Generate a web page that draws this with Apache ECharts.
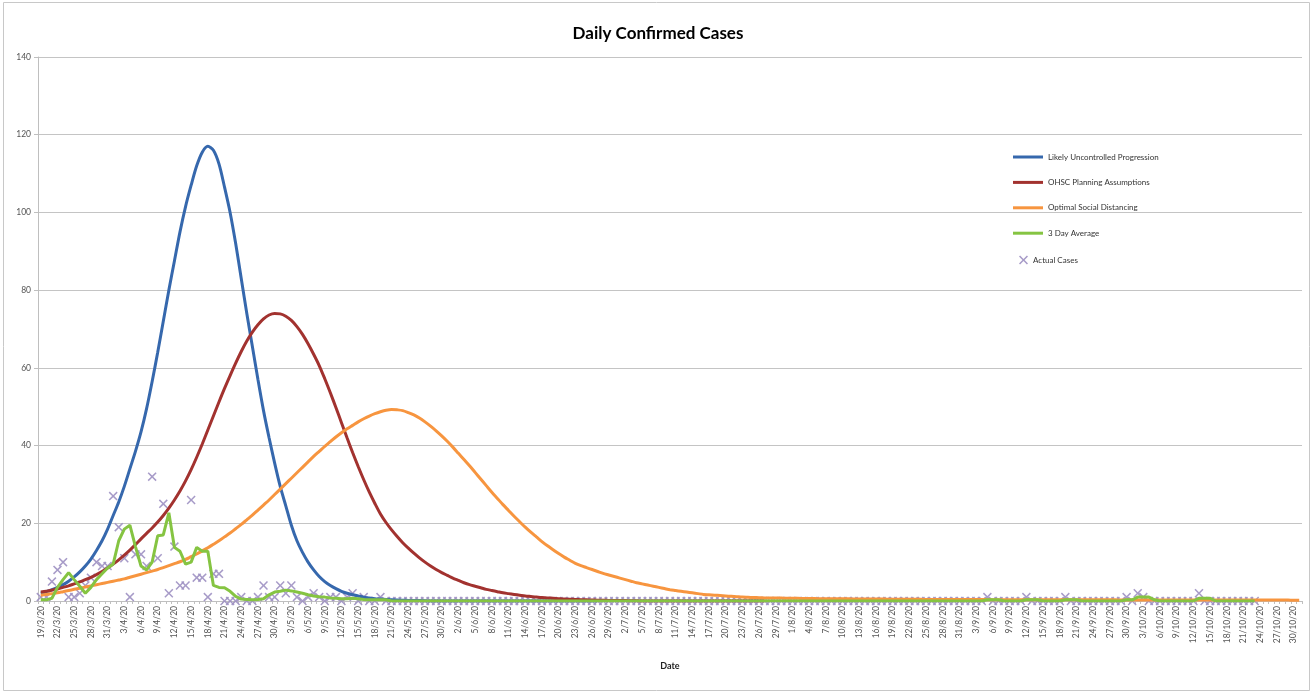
<!DOCTYPE html>
<html>
<head>
<meta charset="utf-8">
<script src="https://cdn.jsdelivr.net/npm/echarts@6/dist/echarts.min.js"></script>
<style>
html,body{margin:0;padding:0;background:#fff;}
#chart{width:1316px;height:697px;}
</style>
</head>
<body>
<div id="chart"></div>
<script>
// ---- categories (daily dates, d/m/yy) ----
const datesMar = ['19/3/20','20/3/20','21/3/20','22/3/20','23/3/20','24/3/20','25/3/20','26/3/20','27/3/20','28/3/20','29/3/20','30/3/20','31/3/20'];
const datesApr = ['1/4/20','2/4/20','3/4/20','4/4/20','5/4/20','6/4/20','7/4/20','8/4/20','9/4/20','10/4/20','11/4/20','12/4/20','13/4/20','14/4/20','15/4/20','16/4/20','17/4/20','18/4/20','19/4/20','20/4/20','21/4/20','22/4/20','23/4/20','24/4/20','25/4/20','26/4/20','27/4/20','28/4/20','29/4/20','30/4/20'];
const datesMay = ['1/5/20','2/5/20','3/5/20','4/5/20','5/5/20','6/5/20','7/5/20','8/5/20','9/5/20','10/5/20','11/5/20','12/5/20','13/5/20','14/5/20','15/5/20','16/5/20','17/5/20','18/5/20','19/5/20','20/5/20','21/5/20','22/5/20','23/5/20','24/5/20','25/5/20','26/5/20','27/5/20','28/5/20','29/5/20','30/5/20','31/5/20'];
const datesJun = ['1/6/20','2/6/20','3/6/20','4/6/20','5/6/20','6/6/20','7/6/20','8/6/20','9/6/20','10/6/20','11/6/20','12/6/20','13/6/20','14/6/20','15/6/20','16/6/20','17/6/20','18/6/20','19/6/20','20/6/20','21/6/20','22/6/20','23/6/20','24/6/20','25/6/20','26/6/20','27/6/20','28/6/20','29/6/20','30/6/20'];
const datesJul = ['1/7/20','2/7/20','3/7/20','4/7/20','5/7/20','6/7/20','7/7/20','8/7/20','9/7/20','10/7/20','11/7/20','12/7/20','13/7/20','14/7/20','15/7/20','16/7/20','17/7/20','18/7/20','19/7/20','20/7/20','21/7/20','22/7/20','23/7/20','24/7/20','25/7/20','26/7/20','27/7/20','28/7/20','29/7/20','30/7/20','31/7/20'];
const datesAug = ['1/8/20','2/8/20','3/8/20','4/8/20','5/8/20','6/8/20','7/8/20','8/8/20','9/8/20','10/8/20','11/8/20','12/8/20','13/8/20','14/8/20','15/8/20','16/8/20','17/8/20','18/8/20','19/8/20','20/8/20','21/8/20','22/8/20','23/8/20','24/8/20','25/8/20','26/8/20','27/8/20','28/8/20','29/8/20','30/8/20','31/8/20'];
const datesSep = ['1/9/20','2/9/20','3/9/20','4/9/20','5/9/20','6/9/20','7/9/20','8/9/20','9/9/20','10/9/20','11/9/20','12/9/20','13/9/20','14/9/20','15/9/20','16/9/20','17/9/20','18/9/20','19/9/20','20/9/20','21/9/20','22/9/20','23/9/20','24/9/20','25/9/20','26/9/20','27/9/20','28/9/20','29/9/20','30/9/20'];
const datesOct = ['1/10/20','2/10/20','3/10/20','4/10/20','5/10/20','6/10/20','7/10/20','8/10/20','9/10/20','10/10/20','11/10/20','12/10/20','13/10/20','14/10/20','15/10/20','16/10/20','17/10/20','18/10/20','19/10/20','20/10/20','21/10/20','22/10/20','23/10/20','24/10/20','25/10/20','26/10/20','27/10/20','28/10/20','29/10/20','30/10/20','31/10/20'];
const categories = [].concat(datesMar, datesApr, datesMay, datesJun, datesJul, datesAug, datesSep, datesOct);

// ---- series values ----
const likelyUncontrolled = [
 2.0,2.4,2.9,3.5,4.2,5.1,6.2,7.5,9.0,10.8,
 13.0,15.5,18.5,22.0,25.5,29.5,34.0,38.5,43.5,49.5,
 56.5,64.0,72.0,80.0,87.5,95.0,101.5,107.0,112.0,115.5,
 117.0,116.0,112.5,106.5,100.0,92.0,83.0,74.0,65.5,57.0,
 49.0,42.0,35.5,29.5,24.5,19.5,15.5,12.5,10.0,8.0,
 6.3,5.0,4.0,3.2,2.5,2.0,1.6,1.3,1.0,0.8,
 0.6,0.5,0.4,0.3,0.25,0.2,0.15,0.1,0.1,0.05,
 0,0,0,0,0,0,0,0,0,0,
 0,0,0,0,0,0,0,0,0,0,
 0,0,0,0,0,0,0,0,0,0,
 0
];
const ohscPlanning = [
 2.3,2.5,2.8,3.1,3.5,3.9,4.4,4.9,5.5,6.1,
 6.8,7.6,8.5,9.5,10.6,11.8,13.1,14.5,16.0,17.4,
 18.8,20.3,22.0,23.9,26.0,28.3,30.9,33.8,37.0,40.4,
 44.0,47.6,51.2,54.7,58.0,61.2,64.2,66.9,69.2,71.1,
 72.6,73.6,74.0,73.9,73.3,72.2,70.6,68.6,66.2,63.5,
 60.6,57.2,53.6,49.8,45.9,42.0,38.2,34.6,31.2,28.0,
 25.1,22.4,20.2,18.3,16.6,15.0,13.6,12.3,11.1,10.0,
 9.0,8.1,7.3,6.6,5.9,5.3,4.7,4.2,3.8,3.4,
 3.0,2.7,2.4,2.1,1.9,1.7,1.5,1.3,1.15,1.0,
 0.9,0.8,0.7,0.6,0.5,0.45,0.4,0.35,0.3,0.25,
 0.2,0.2,0.15,0.15,0.1,0.1,0.05,0.05,0,0,
 0,0,0,0,0,0,0,0,0,0,
 0,0,0,0,0,0,0,0,0,0,
 0
];
const optimalDistancing = [
 1.5,1.7,1.9,2.1,2.4,2.7,3.0,3.3,3.6,3.9,
 4.2,4.5,4.8,5.1,5.4,5.7,6.1,6.5,6.9,7.3,
 7.7,8.1,8.6,9.1,9.6,10.1,10.7,11.4,12.1,12.9,
 13.7,14.6,15.5,16.5,17.5,18.6,19.7,20.9,22.1,23.4,
 24.7,26.0,27.4,28.8,30.2,31.6,33.0,34.4,35.8,37.2,
 38.5,39.8,41.0,42.2,43.3,44.3,45.2,46.1,46.9,47.6,
 48.2,48.7,49.1,49.3,49.2,49.0,48.5,47.9,47.1,46.1,
 45.0,43.8,42.5,41.1,39.6,38.0,36.4,34.8,33.1,31.4,
 29.7,28.0,26.4,24.8,23.3,21.8,20.4,19.0,17.7,16.5,
 15.3,14.2,13.2,12.2,11.3,10.5,9.7,9.1,8.6,8.1,
 7.6,7.1,6.7,6.3,5.9,5.5,5.1,4.7,4.4,4.1,
 3.8,3.5,3.2,2.9,2.7,2.5,2.3,2.1,1.9,1.7,
 1.6,1.5,1.4,1.3,1.2,1.1,1.0,0.95,0.9,0.85,
 0.8,0.78,0.76,0.74,0.72,0.7,0.68,0.66,0.64,0.62,
 0.6,0.59,0.58,0.57,0.56,0.55,0.54,0.53,0.52,0.51,
 0.5,0.49,0.48,0.47,0.46,0.45,0.44,0.43,0.42,0.41,
 0.4,0.4,0.39,0.39,0.38,0.38,0.37,0.37,0.36,0.36,
 0.35,0.35,0.35,0.34,0.34,0.34,0.33,0.33,0.33,0.32,
 0.32,0.32,0.31,0.31,0.31,0.3,0.3,0.3,0.3,0.3,
 0.29,0.29,0.29,0.29,0.28,0.28,0.28,0.28,0.28,0.27,
 0.27,0.27,0.27,0.27,0.26,0.26,0.26,0.26,0.26,0.25,
 0.25,0.25,0.25,0.25,0.25,0.24,0.24,0.24,0.24,0.24,
 0.23,0.23,0.23,0.23,0.23,0.22,0.22
];
const threeDayAverage = [
 0.3,0.3,0.7,3.5,5.5,7.3,5.5,3.8,2.0,3.5,
 5.5,7.0,8.5,9.5,15.5,18.5,19.5,14.0,9.0,8.0,
 10.0,16.8,17.0,22.7,13.8,12.8,9.5,10.0,13.8,12.8,
 12.8,4.0,3.5,3.4,2.5,1.2,0.5,0.4,0.3,0.4,
 0.6,1.6,2.3,2.5,2.8,2.6,2.3,2.0,1.6,1.3,
 1.1,1.0,0.8,0.7,0.6,0.6,0.7,0.6,0.4,0.3,
 0.3,0.3,0.3,0,0,0,0,0,0,0,
 0,0,0,0,0,0,0,0,0,0,
 0,0,0,0,0,0,0,0,0,0,
 0,0,0,0,0,0,0,0,0,0,
 0,0,0,0,0,0,0,0,0,0,
 0,0,0,0,0,0,0,0,0,0,
 0,0,0,0,0,0,0,0,0,0,
 0,0,0,0,0,0,0,0,0,0,
 0,0,0,0,0,0,0,0,0,0,
 0,0,0,0,0,0,0,0,0,0,
 0,0,0,0,0,0,0,0,0,0,
 0.3,0.3,0.3,0,0,0,0,0.3,0.3,0.3,
 0,0,0,0,0.3,0.3,0.3,0,0,0,
 0,0,0,0,0,0.3,0.3,1.0,1.0,1.0,
 0.3,0,0,0,0,0,0,0,0.7,0.7,
 0.7,0,0,0,0,0,0,0,0
];
const actualCases = [
 1,1,5,8,10,1,1,2,4,6,
 10,9,9,27,19,11,1,12,12,9,
 32,11,25,2,14,4,4,26,6,6,
 1,7,7,0,0,0,1,0,0,1,
 4,1,1,4,2,4,1,0,1,2,
 1,0,1,1,0,1,2,0,1,0,
 0,1,0,0,0,0,0,0,0,0,
 0,0,0,0,0,0,0,0,0,0,
 0,0,0,0,0,0,0,0,0,0,
 0,0,0,0,0,0,0,0,0,0,
 0,0,0,0,0,0,0,0,0,0,
 0,0,0,0,0,0,0,0,0,0,
 0,0,0,0,0,0,0,0,0,0,
 0,0,0,0,0,0,0,0,0,0,
 0,0,0,0,0,0,0,0,0,0,
 0,0,0,0,0,0,0,0,0,0,
 0,0,0,0,0,0,0,0,0,0,
 1,0,0,0,0,0,0,1,0,0,
 0,0,0,0,1,0,0,0,0,0,
 0,0,0,0,0,1,0,2,1,0,
 0,0,0,0,0,0,0,0,2,0,
 0,0,0,0,0,0,0,0,0
];
const yTicks = [0,20,40,60,80,100,120,140];

const FONT = 'Lato, "Liberation Sans", sans-serif';
const xSymbol = 'path://M0,1.2L1.2,0L5,3.8L8.8,0L10,1.2L6.2,5L10,8.8L8.8,10L5,6.2L1.2,10L0,8.8L3.8,5Z';

const chart = echarts.init(document.getElementById('chart'), null, {renderer: 'canvas'});
chart.setOption({
  animation: false,
  backgroundColor: '#ffffff',
  textStyle: {fontFamily: FONT},
  title: {
    text: 'Daily Confirmed Cases',
    left: 'center', top: 20,
    textStyle: {fontSize: 17, fontWeight: 'bold', color: '#000', fontFamily: FONT}
  },
  graphic: [{
    type: 'rect', silent: true,
    shape: {x: 3.5, y: 2.5, width: 1306, height: 688},
    style: {fill: 'none', stroke: '#c8c8c8', lineWidth: 1}
  }],
  legend: [{
    orient: 'vertical', left: 1013, top: 153, padding: 0,
    itemWidth: 30, itemHeight: 3, itemGap: 17.4, itemTextGap: 2,
    icon: 'rect',
    textStyle: {fontSize: 8, color: '#333', fontFamily: FONT},
    data: ['Likely Uncontrolled Progression', 'OHSC Planning Assumptions', 'Optimal Social Distancing', '3 Day Average']
  }, {
    orient: 'vertical', left: 1019, top: 255.5, padding: 0,
    itemWidth: 9, itemHeight: 9, itemTextGap: 9,
    textStyle: {fontSize: 8, color: '#333', fontFamily: FONT},
    data: [{name: 'Actual Cases', icon: xSymbol}]
  }],
  grid: {left: 38, right: 14, top: 57, bottom: 96, containLabel: false},
  xAxis: {
    type: 'category',
    data: categories,
    boundaryGap: true,
    name: 'Date', nameLocation: 'middle', nameGap: 61,
    nameTextStyle: {fontSize: 9, fontWeight: 'bold', color: '#222', fontFamily: FONT},
    axisLine: {lineStyle: {color: '#bfbfbf'}},
    axisTick: {show: true, interval: 0, length: 3, lineStyle: {color: '#bfbfbf'}},
    axisLabel: {interval: 2, rotate: 90, fontSize: 8.5, color: '#555', margin: 5, fontFamily: FONT},
    splitLine: {show: false}
  },
  yAxis: {
    type: 'value', min: yTicks[0], max: yTicks[yTicks.length - 1], interval: 20,
    axisLine: {show: true, lineStyle: {color: '#bfbfbf'}},
    axisTick: {show: true, length: 4, lineStyle: {color: '#bfbfbf'}},
    axisLabel: {fontSize: 8.5, color: '#555', margin: 7, fontFamily: FONT},
    splitLine: {show: true, lineStyle: {color: '#c4c4c4', width: 1}}
  },
  series: [
    {name: 'Likely Uncontrolled Progression', type: 'line', data: likelyUncontrolled,
     showSymbol: false, smooth: 0.3, lineStyle: {width: 3, color: '#3668ad'}, itemStyle: {color: '#3668ad'}},
    {name: 'OHSC Planning Assumptions', type: 'line', data: ohscPlanning,
     showSymbol: false, smooth: 0.3, lineStyle: {width: 3, color: '#a2322f'}, itemStyle: {color: '#a2322f'}},
    {name: 'Optimal Social Distancing', type: 'line', data: optimalDistancing,
     showSymbol: false, smooth: 0.3, lineStyle: {width: 3, color: '#f7953f'}, itemStyle: {color: '#f7953f'}},
    {name: 'Actual Cases', type: 'scatter', data: actualCases,
     symbol: xSymbol, symbolSize: 9, itemStyle: {color: '#9d90c2', opacity: 0.9}},
    {name: '3 Day Average', type: 'line', data: threeDayAverage,
     showSymbol: false, smooth: false, lineStyle: {width: 3, color: '#85c442'}, itemStyle: {color: '#85c442'}}
  ]
});
</script>
</body>
</html>
